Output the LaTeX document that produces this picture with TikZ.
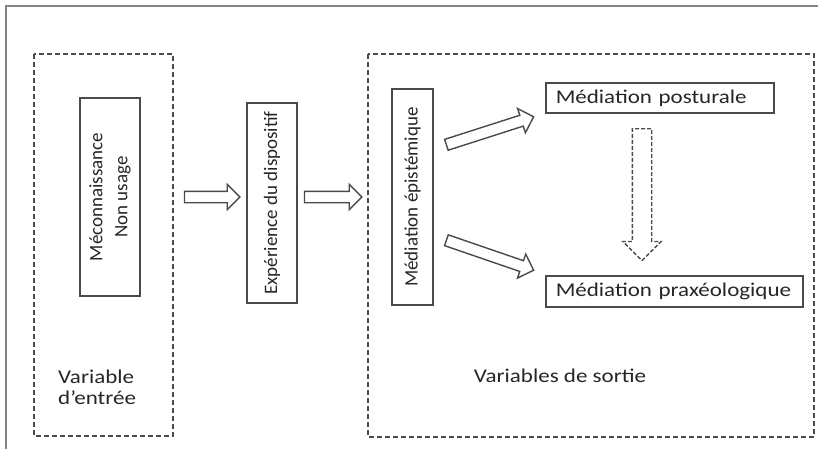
\documentclass[tikz,border=0pt]{standalone}
\usepackage{fontspec}
\setmainfont{Carlito}
\newfontfamily\wideFont{Carlito}[FakeStretch=1.18]
\usetikzlibrary{shapes.arrows,calc}
\definecolor{linegray}{HTML}{4A4A4A}
\definecolor{framegray}{HTML}{858585}
\tikzset{
  varbox/.style={draw=linegray, line width=1.6pt, dash pattern=on 5pt off 3pt},
  upbox/.style={draw=linegray, line width=1.5pt, inner sep=0pt, rotate=90, align=center,
    text=black!85, font=\fontsize{19}{25}\selectfont},
  sidebox/.style={draw=linegray, line width=1.5pt, inner xsep=10pt, inner ysep=0pt, align=left,
    minimum height=30pt, anchor=west, text=black!85, font=\wideFont\fontsize{19.5}{24}\selectfont},
  hollowarrow/.style={single arrow, draw=linegray, line width=1.4pt, inner xsep=0pt,
    inner ysep=5pt, single arrow head extend=7pt},
  label/.style={inner sep=0pt, align=left, text=black!85, font=\wideFont\fontsize{19.5}{21}\selectfont}
}
% block arrow between two named points
\newcommand{\blockarrow}[3][]{%
  \path let \p1=($(#3)-(#2)$), \n1={atan2(\y1,\x1)}, \n2={veclen(\x1,\y1)} in
    node[hollowarrow, #1, minimum height=\n2, rotate=\n1, anchor=tail] at (#2) {};}
\begin{document}
\begin{tikzpicture}[x=1pt, y=-1pt]
\useasboundingbox (0,0) rectangle (818,448);
% frame and the two groups
\draw[framegray, line width=2pt] (6,6) rectangle (840,470);
\draw[varbox] (34,54) rectangle (173,436);
\draw[varbox] (368,54) rectangle (814,437);

% rotated boxes: north is the left side, south the right side
\node[upbox, minimum width=198pt, minimum height=60pt] (meco) at (110,197) {M\'econnaissance\\Non usage};
\node[upbox, minimum width=200pt, minimum height=50pt] (exp) at (272,203) {Exp\'erience du dispositif};
\node[upbox, minimum width=216pt, minimum height=41pt] (epi) at (412.5,197) {M\'ediation \'epist\'emique};
\node[sidebox, text width=208pt] (post) at (545,98) {M\'ediation posturale};
\node[sidebox, text width=237pt, minimum height=31pt] (prax) at (545,291.5) {M\'ediation prax\'eologique};

\node[label, anchor=north west] (entree) at (58,370) {Variable\\d’entr\'ee};
\node[label, anchor=base] (sortie) at (560,382) {Variables de sortie};

\coordinate (a1s) at ([xshift=43pt]meco.south);
\coordinate (a1e) at ([xshift=-7pt]exp.north |- meco.south);
\coordinate (a2s) at ([xshift=6pt]exp.south |- epi.south);
\coordinate (a2e) at ([xshift=-30pt]epi.north);
\coordinate (a3s) at ($(epi.south)+(12,-52)$);
\coordinate (a3e) at ($(post.west)+(-12,19)$);
\coordinate (a4s) at ($(epi.south)+(12,43)$);
\coordinate (a4e) at ($(prax.west)+(-12,-21.5)$);
\coordinate (a5s) at (642,128);
\coordinate (a5e) at (642,260);

\blockarrow{a1s}{a1e}
\blockarrow{a2s}{a2e}
\blockarrow{a3s}{a3e}
\blockarrow{a4s}{a4e}
\blockarrow[inner ysep=9pt, single arrow head extend=9.5pt, dash pattern=on 4pt off 2pt]{a5s}{a5e}
\end{tikzpicture}
\end{document}
